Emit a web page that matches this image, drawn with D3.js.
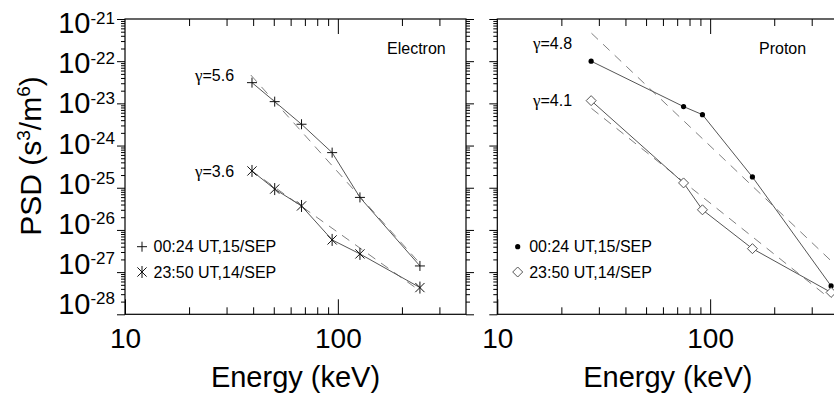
<!DOCTYPE html>
<html>
<head>
<meta charset="utf-8">
<script src="https://cdn.jsdelivr.net/npm/d3@7"></script>
<style>
  body { margin: 0; background: #fff; }
  svg  { display: block; font-family: "Liberation Sans", Arial, sans-serif; }
</style>
</head>
<body>
<svg id="chart" width="834" height="393"></svg>
<script>
/* ─── PSD vs Energy — electron / proton spectra ─────────── */

// ── Data ──────────────────────────────────────────────────
const elecEnergy   = [39.5, 50.5, 67.5, 94, 127, 243];          // keV
const elecPSD0024  = [3.1e-23, 1.1e-23, 3.2e-24, 6.8e-25, 5.9e-26, 1.4e-27];
const elecPSD2350  = [2.5e-25, 9.3e-26, 3.7e-26, 5.8e-27, 2.7e-27, 4.3e-28];

const protEnergy   = [27.6, 75, 92, 158, 370];                   // keV
const protPSD0024  = [1.0e-22, 8.4e-24, 5.4e-24, 1.8e-25, 4.7e-28];
const protPSD2350  = [1.16e-23, 1.3e-25, 3.0e-26, 3.6e-27, 3.3e-28];

// power-law fits: end points of the dashed lines
const elecFitE56   = [39, 243];   const elecFit56 = [4.7e-23, 1.6e-27];
const elecFitE36   = [39, 243];   const elecFit36 = [2.6e-25, 3.6e-28];
const protFitE48   = [27.7, 372]; const protFit48 = [4.6e-22, 1.8e-27];
const protFitE41   = [27.7, 350]; const protFit41 = [7.6e-24, 2.8e-28];

const gammaValues  = ['5.6', '3.6', '4.8', '4.1'];
const legendLabels = ['00:24 UT,15/SEP', '23:50 UT,14/SEP'];
const xTickLabels  = [10, 100];
const xMinorTicks  = [20, 30, 40, 50, 60, 70, 80, 90, 200, 300];
const yDecades     = [-21, -22, -23, -24, -25, -26, -27, -28];

// ── Setup ─────────────────────────────────────────────────
const svg = d3.select('#chart');
const TOP = 19, BOTTOM = 314.3;

const yMajor = yDecades.map(d => +('1e' + d));
const yMinor = [];
yDecades.slice(1).forEach(d => {
  for (let k = 2; k < 10; k++) yMinor.push(k * +('1e' + d));
});

const markers = {
  plus:     'M-5,0H5M0,-5V5',
  asterisk: 'M0,-6V6M-4.6,-4.6L4.6,4.6M-4.6,4.6L4.6,-4.6',
  diamond:  'M0,-5L5,0L0,5L-5,0Z'
};

// ── Panel builder ─────────────────────────────────────────
function drawPanel(left, right, opts) {
  const x = d3.scaleLog().domain([10, 400]).range([left, right]);
  const y = d3.scaleLog().domain([1e-28, 1e-21]).range([BOTTOM, TOP]);
  const g = svg.append('g');

  // axes: ticks point inward on every side
  const addAxis = (axis, tx, ty) => {
    const a = g.append('g').attr('transform', `translate(${tx},${ty})`).call(axis);
    a.select('.domain').remove();
    a.selectAll('line').attr('stroke', '#000').attr('stroke-width', 1);
    return a;
  };
  addAxis(d3.axisBottom(x).tickValues(xMinorTicks).tickSize(-7).tickFormat(''), 0, BOTTOM);
  addAxis(d3.axisTop(x).tickValues(xMinorTicks).tickSize(-7).tickFormat(''), 0, TOP);
  addAxis(d3.axisTop(x).tickValues([100]).tickSize(-15).tickFormat(''), 0, TOP);
  const xb = addAxis(d3.axisBottom(x).tickValues(xTickLabels).tickSize(-15)
    .tickPadding(14).tickFormat(d3.format('d')), 0, BOTTOM);
  xb.selectAll('text').attr('font-size', 28).attr('fill', '#000')
    .attr('font-family', '"Liberation Sans", Arial, sans-serif');

  [[d3.axisRight, left], [d3.axisLeft, right]].forEach(([ax, pos]) => {
    addAxis(ax(y).tickValues(yMajor).tickSize(-8).tickFormat(''), pos, 0);
    addAxis(ax(y).tickValues(yMinor).tickSize(-4).tickFormat(''), pos, 0);
  });

  // frame
  g.append('rect')
    .attr('x', left).attr('y', TOP)
    .attr('width', right - left).attr('height', BOTTOM - TOP)
    .attr('fill', 'none').attr('stroke', '#000').attr('stroke-width', 1.2);

  // x title
  g.append('text')
    .attr('x', (left + right) / 2).attr('y', 387)
    .attr('text-anchor', 'middle').attr('font-size', 29)
    .text('Energy (keV)');

  // fits (dashed)
  const line = d3.line().x(d => x(d[0])).y(d => y(d[1]));
  opts.fits.forEach(f => {
    g.append('path')
      .attr('d', line(d3.zip(f.e, f.v)))
      .attr('fill', 'none').attr('stroke', '#808080')
      .attr('stroke-width', 1).attr('stroke-dasharray', '9,7');
  });

  // data series
  opts.series.forEach(s => {
    const pts = d3.zip(opts.energy, s.values);
    g.append('path')
      .attr('d', line(pts))
      .attr('fill', 'none').attr('stroke', '#555').attr('stroke-width', 1);
    const m = g.append('g').selectAll('g').data(pts).join('g')
      .attr('transform', d => `translate(${x(d[0])},${y(d[1])})`);
    drawMarker(m, s.marker);
  });

  // labels
  g.append('text').attr('x', opts.titleX).attr('y', 53.7)
    .attr('font-size', 16).text(opts.title);
  opts.gamma.forEach(gm => {
    const t = g.append('text').attr('x', gm.x).attr('y', gm.y).attr('font-size', 16);
    t.append('tspan').attr('font-family', '"Liberation Serif", serif').attr('font-size', 17).text('γ');
    t.append('tspan').text('=' + gm.value);
  });

  // legend
  opts.series.forEach((s, i) => {
    const ly = 246.7 + i * 25.3;
    const lg = g.append('g').attr('transform', `translate(${opts.legendX},${ly})`);
    drawMarker(lg, s.marker);
    g.append('text').attr('x', opts.legendX + 11.5).attr('y', ly + 5.7)
      .attr('font-size', 16).text(legendLabels[i]);
  });

  return { x, y };
}

function drawMarker(sel, type) {
  if (type === 'dot') {
    sel.append('circle').attr('r', 2.6).attr('fill', '#000');
  } else {
    sel.append('path').attr('d', markers[type])
      .attr('fill', type === 'diamond' ? '#fff' : 'none')
      .attr('stroke', type === 'diamond' ? '#555' : '#111')
      .attr('stroke-width', 1);
  }
}

// ── Electron panel ────────────────────────────────────────
const elec = drawPanel(125, 466, {
  energy: elecEnergy,
  series: [
    { values: elecPSD0024, marker: 'plus' },
    { values: elecPSD2350, marker: 'asterisk' }
  ],
  fits: [
    { e: elecFitE56, v: elecFit56 },
    { e: elecFitE36, v: elecFit36 }
  ],
  title: 'Electron', titleX: 387,
  gamma: [
    { value: gammaValues[0], x: 195, y: 80.5 },
    { value: gammaValues[1], x: 195, y: 176.5 }
  ],
  legendX: 142
});

// ── Proton panel ──────────────────────────────────────────
drawPanel(497.3, 838.3, {
  energy: protEnergy,
  series: [
    { values: protPSD0024, marker: 'dot' },
    { values: protPSD2350, marker: 'diamond' }
  ],
  fits: [
    { e: protFitE48, v: protFit48 },
    { e: protFitE41, v: protFit41 }
  ],
  title: 'Proton', titleX: 759,
  gamma: [
    { value: gammaValues[2], x: 533, y: 48.8 },
    { value: gammaValues[3], x: 533, y: 105.5 }
  ],
  legendX: 517.7
});

// ── Y tick labels (10^n), slightly compressed like the original ──
const yl = svg.append('g');
yDecades.forEach(d => {
  const cy = 5 + 0.949 * elec.y(+('1e' + d));
  const t = yl.append('text')
    .attr('x', 115).attr('y', cy + 10.4)
    .attr('text-anchor', 'end').attr('font-size', 29);
  t.append('tspan').text('10');
  t.append('tspan').attr('font-size', 17).attr('dy', -9.2).text(String(d));
});

// ── Y title ───────────────────────────────────────────────
const yt = svg.append('text')
  .attr('transform', 'translate(41,156) rotate(-90)')
  .attr('text-anchor', 'middle').attr('font-size', 30);
yt.append('tspan').text('PSD (s');
yt.append('tspan').attr('font-size', 19).attr('dy', -11).text('3');
yt.append('tspan').attr('dy', 11).text('/m');
yt.append('tspan').attr('font-size', 19).attr('dy', -11).text('6');
yt.append('tspan').attr('dy', 11).text(')');
</script>
</body>
</html>
